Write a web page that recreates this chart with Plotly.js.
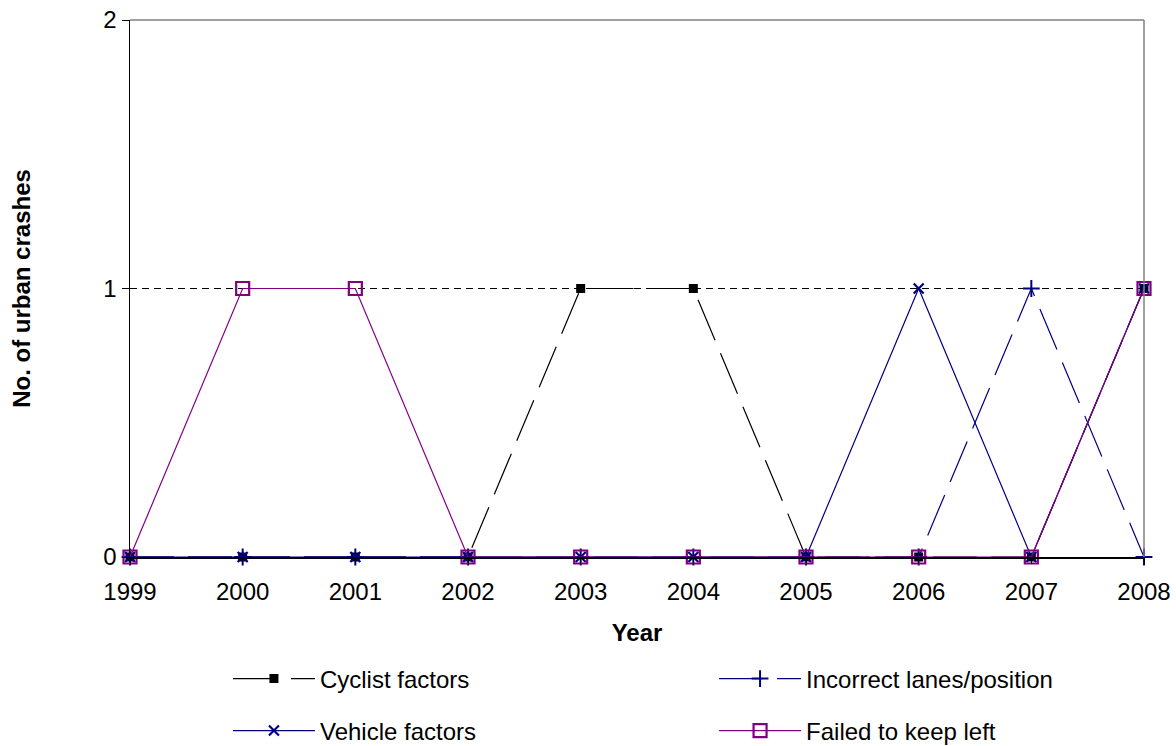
<!DOCTYPE html>
<html>
<head>
<meta charset="utf-8">
<script src="https://cdn.plot.ly/plotly-3.0.1.min.js"></script>
<style>
  html, body { margin: 0; padding: 0; background: #ffffff; }
  #chart { width: 1176px; height: 746px; }
</style>
</head>
<body>
<div id="chart"></div>
<script>
// ---- Data ----
const years = [1999, 2000, 2001, 2002, 2003, 2004, 2005, 2006, 2007, 2008];
const cyclistFactors   = [0, 0, 0, 0, 1, 1, 0, 0, 0, 1];
const incorrectLanes   = [0, 0, 0, 0, 0, 0, 0, 0, 1, 0];
const vehicleFactors   = [0, 0, 0, 0, 0, 0, 0, 1, 0, 1];
const failedKeepLeft   = [0, 1, 1, 0, 0, 0, 0, 0, 0, 1];
const yTicks = [0, 1, 2];
const seriesNames = ["Cyclist factors", "Incorrect lanes/position", "Vehicle factors", "Failed to keep left"];

const FONT = "Arial, 'Liberation Sans', sans-serif";
const NAVY = "#000080";
const PURPLE = "#800080";

const traces = [
  {
    x: years, y: cyclistFactors, name: seriesNames[0], type: "scatter", mode: "lines+markers",
    line: { color: "#000000", width: 1.2, dash: "44px,14px" },
    marker: { symbol: "square", size: 9, color: "#000000" },
    cliponaxis: false, legend: "legend"
  },
  {
    x: years, y: incorrectLanes, name: seriesNames[1], type: "scatter", mode: "lines+markers",
    line: { color: NAVY, width: 1.2, dash: "44px,14px" },
    marker: { symbol: "cross-thin", size: 12, color: NAVY, line: { color: NAVY, width: 2 } },
    cliponaxis: false, legend: "legend2"
  },
  {
    x: years, y: vehicleFactors, name: seriesNames[2], type: "scatter", mode: "lines+markers",
    line: { color: NAVY, width: 1.2 },
    marker: { symbol: "x-thin", size: 10, color: NAVY, line: { color: NAVY, width: 2.2 } },
    cliponaxis: false, legend: "legend3"
  },
  {
    x: years, y: failedKeepLeft, name: seriesNames[3], type: "scatter", mode: "lines+markers",
    line: { color: PURPLE, width: 1.2 },
    marker: { symbol: "square-open", size: 13, color: PURPLE, line: { color: PURPLE, width: 2.2 } },
    cliponaxis: false, legend: "legend4"
  }
];

const legendCommon = {
  orientation: "v",
  xref: "paper", yref: "paper",
  xanchor: "left", yanchor: "middle",
  font: { family: FONT, size: 24, color: "#000000" },
  bgcolor: "rgba(0,0,0,0)",
  borderwidth: 0,
  itemwidth: 82,
  traceorder: "normal"
};

// legend positions in plot-area fractions (plot spans x 130..1144, y 20..557)
const colX = [0.0966, 0.576];
const rowY = [-0.2272, -0.324];

const layout = {
  width: 1176, height: 746,
  paper_bgcolor: "#ffffff", plot_bgcolor: "#ffffff",
  margin: { l: 130, r: 32, t: 20, b: 189, pad: 0, autoexpand: false },
  font: { family: FONT, size: 24, color: "#000000" },
  showlegend: true,
  xaxis: {
    range: [years[0], years[years.length - 1]],
    tickmode: "array", tickvals: years, ticktext: years.map(String),
    showgrid: false, zeroline: false,
    showline: true, linecolor: "#000000", linewidth: 1.5,
    ticks: "outside", ticklen: 5, tickcolor: "#000000", tickwidth: 1,
    ticklabelstandoff: 8,
    tickfont: { family: FONT, size: 24, color: "#000000" },
    title: { text: "<b>Year</b>", font: { family: FONT, size: 24, color: "#000000" }, standoff: 20 },
    fixedrange: true
  },
  yaxis: {
    range: [0, 2],
    tickmode: "array", tickvals: yTicks, ticktext: yTicks.map(String),
    showgrid: true, gridcolor: "#000000", gridwidth: 1, griddash: "7px,5px",
    zeroline: false,
    showline: true, linecolor: "#000000", linewidth: 1.5,
    ticks: "outside", ticklen: 7, tickcolor: "#000000", tickwidth: 1,
    ticklabelstandoff: 0,
    tickfont: { family: FONT, size: 24, color: "#000000" },
    title: { text: "<b>No. of urban crashes</b>", font: { family: FONT, size: 24, color: "#000000" }, standoff: 66 },
    fixedrange: true
  },
  shapes: [
    { type: "line", xref: "paper", yref: "paper", x0: 0, x1: 1, y0: 1, y1: 1,
      line: { color: "#808080", width: 1.5 }, layer: "above" },
    { type: "line", xref: "paper", yref: "paper", x0: 1, x1: 1, y0: 0, y1: 1,
      line: { color: "#808080", width: 1.5 }, layer: "above" }
  ],
  legend:  Object.assign({}, legendCommon, { x: colX[0], y: rowY[0] }),
  legend2: Object.assign({}, legendCommon, { x: colX[1], y: rowY[0] }),
  legend3: Object.assign({}, legendCommon, { x: colX[0], y: rowY[1] }),
  legend4: Object.assign({}, legendCommon, { x: colX[1], y: rowY[1] })
};

Plotly.newPlot("chart", traces, layout, { displayModeBar: false, staticPlot: true });
</script>
</body>
</html>
